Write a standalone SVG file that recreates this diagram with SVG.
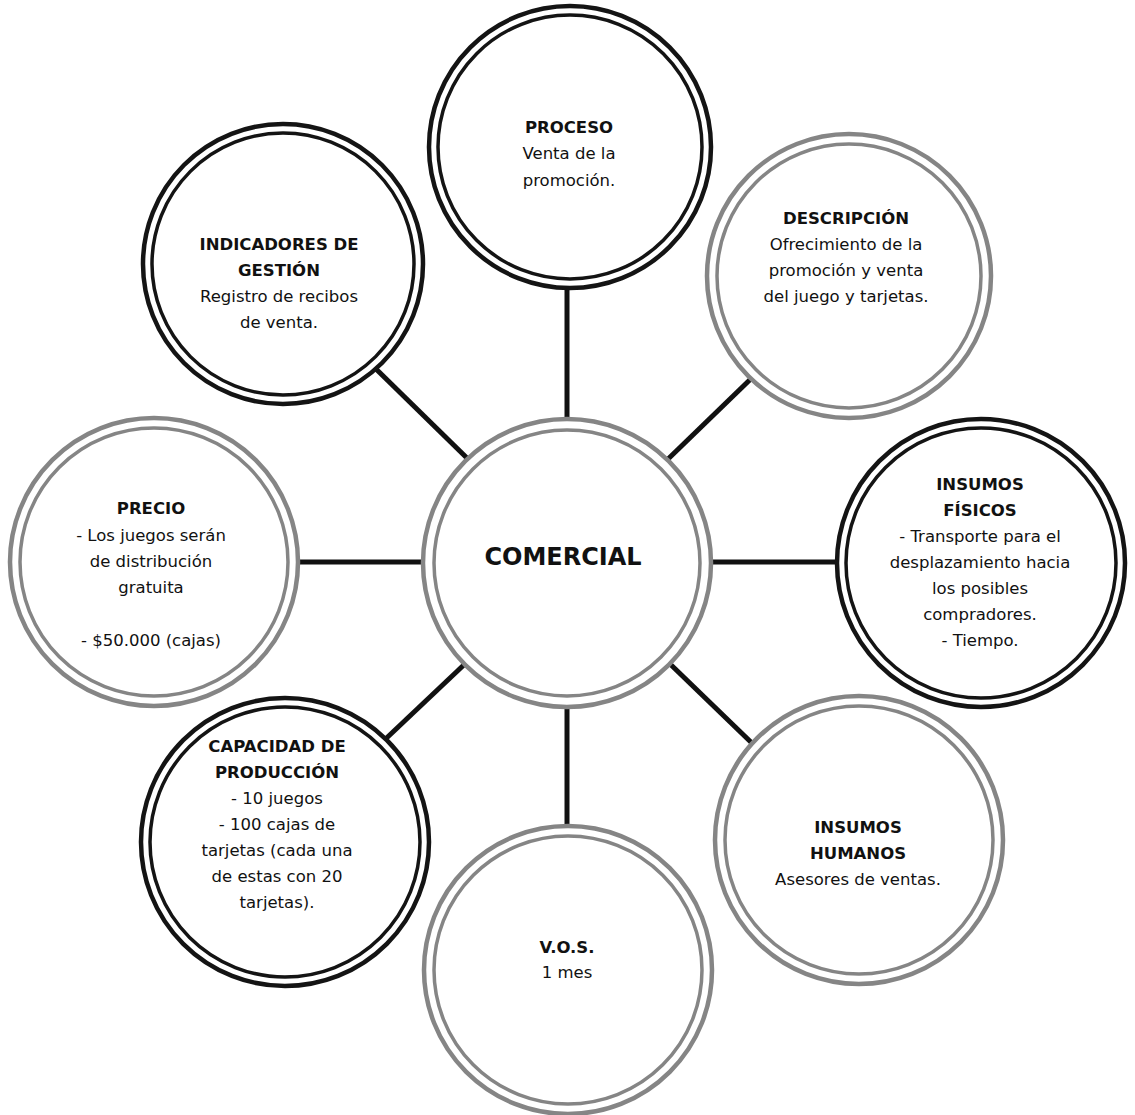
<svg xmlns="http://www.w3.org/2000/svg" width="1135" height="1115" viewBox="0 0 1135 1115">
<style>
.bg{fill:#fff}
.ro{fill:#fff;stroke-width:4.5}
.ri{fill:none;stroke-width:3.5}
.dark .ro,.dark .ri{stroke:#141414}
.gray .ro,.gray .ri{stroke:#858585}
text{font-family:"DejaVu Sans","Liberation Sans",sans-serif;font-size:16.5px;fill:#111;text-anchor:middle}
.h{font-weight:bold}
.big{font-size:24px;font-weight:bold}
.conn line{stroke:#111;stroke-width:5;stroke-linecap:butt}
</style>
<rect class="bg" x="0" y="0" width="1135" height="1115"/>
<g id="connectors" class="conn">
<line x1="567" y1="288" x2="567" y2="424"/>
<line x1="567" y1="702" x2="567" y2="830"/>
<line x1="298" y1="562" x2="425" y2="562"/>
<line x1="709" y1="562" x2="838" y2="562"/>
<line x1="375" y1="368" x2="470" y2="461"/>
<line x1="760" y1="370" x2="666" y2="461"/>
<line x1="468" y1="661" x2="376" y2="748"/>
<line x1="667" y1="661" x2="757" y2="748"/>
</g>
<g id="proceso" class="dark">
<circle class="ro" cx="570" cy="147" r="141"/><circle class="ri" cx="570" cy="147" r="132"/>
<text x="569" y="133" class="h">PROCESO</text>
<text x="569" y="159">Venta de la</text>
<text x="569" y="186">promoción.</text>
</g>
<g id="descripcion" class="gray">
<circle class="ro" cx="849" cy="276" r="142"/><circle class="ri" cx="849" cy="276" r="132"/>
<text x="846" y="224" class="h">DESCRIPCIÓN</text>
<text x="846" y="250">Ofrecimiento de la</text>
<text x="846" y="276">promoción y venta</text>
<text x="846" y="302">del juego y tarjetas.</text>
</g>
<g id="indicadores" class="dark">
<circle class="ro" cx="283" cy="264" r="140"/><circle class="ri" cx="283" cy="264" r="131"/>
<text x="279" y="250" class="h">INDICADORES DE</text>
<text x="279" y="276" class="h">GESTIÓN</text>
<text x="279" y="302">Registro de recibos</text>
<text x="279" y="328">de venta.</text>
</g>
<g id="precio" class="gray">
<circle class="ro" cx="154" cy="562" r="144"/><circle class="ri" cx="154" cy="562" r="134"/>
<text x="151" y="514" class="h">PRECIO</text>
<text x="151" y="541">- Los juegos serán</text>
<text x="151" y="567">de distribución</text>
<text x="151" y="593">gratuita</text>
<text x="151" y="646">- $50.000 (cajas)</text>
</g>
<g id="comercial" class="gray">
<circle class="ro" cx="567" cy="563" r="144"/><circle class="ri" cx="567" cy="563" r="133"/>
<text x="563" y="565" class="big">COMERCIAL</text>
</g>
<g id="insumos-fisicos" class="dark">
<circle class="ro" cx="981" cy="563" r="144"/><circle class="ri" cx="981" cy="563" r="135"/>
<text x="980" y="490" class="h">INSUMOS</text>
<text x="980" y="516" class="h">FÍSICOS</text>
<text x="980" y="542">- Transporte para el</text>
<text x="980" y="568">desplazamiento hacia</text>
<text x="980" y="594">los posibles</text>
<text x="980" y="620">compradores.</text>
<text x="980" y="646">- Tiempo.</text>
</g>
<g id="capacidad" class="dark">
<circle class="ro" cx="285" cy="842" r="144"/><circle class="ri" cx="285" cy="842" r="135"/>
<text x="277" y="752" class="h">CAPACIDAD DE</text>
<text x="277" y="778" class="h">PRODUCCIÓN</text>
<text x="277" y="804">- 10 juegos</text>
<text x="277" y="830">- 100 cajas de</text>
<text x="277" y="856">tarjetas (cada una</text>
<text x="277" y="882">de estas con 20</text>
<text x="277" y="908">tarjetas).</text>
</g>
<g id="insumos-humanos" class="gray">
<circle class="ro" cx="859" cy="840" r="144"/><circle class="ri" cx="859" cy="840" r="134"/>
<text x="858" y="833" class="h">INSUMOS</text>
<text x="858" y="859" class="h">HUMANOS</text>
<text x="858" y="885">Asesores de ventas.</text>
</g>
<g id="vos" class="gray">
<circle class="ro" cx="568" cy="970" r="144"/><circle class="ri" cx="568" cy="970" r="134"/>
<text x="567" y="953" class="h">V.O.S.</text>
<text x="567" y="978">1 mes</text>
</g>
</svg>
